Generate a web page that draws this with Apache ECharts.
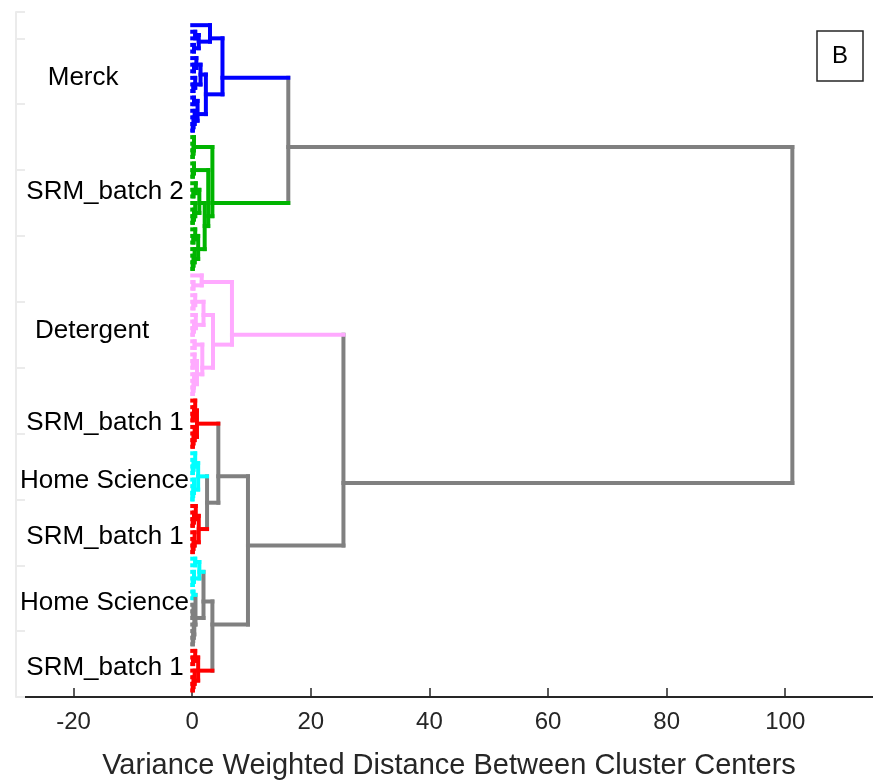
<!DOCTYPE html>
<html>
<head>
<meta charset="utf-8">
<script src="https://cdn.jsdelivr.net/npm/echarts@6/dist/echarts.min.js"></script>
<style>
  html, body { margin: 0; padding: 0; background: #fff; }
  #chart { width: 873px; height: 781px; }
</style>
</head>
<body>
<div id="chart"></div>
<script>
// Dendrogram: each node is [distance, lowerChild, upperChild, colour?]; a leaf is L.
// Leaves are numbered 1..N from the bottom; a node sits at the mean of its leaves.
const L = 0;

const srmBatch1Low = [1.0, [0.4, [0.2, [0.1, L, L], L], L], [0.5, [0.15, L, L], L], 'red'];
const mixedGroup   = [0.55, [0.35, [0.25, [0.15, [0.1, L, L], L], L], [0.2, [0.1, L, L], L]], [0.2, L, L, 'cyan']];
const homeSciLow   = [1.2, [0.3, [0.1, L, L], L], [0.5, L, L], 'cyan'];
const srmBatch1Mid = [1.1, [0.4, [0.2, [0.1, L, L], L], L], [0.6, [0.3, [0.1, L, L], L], L], 'red'];
const homeSciHigh  = [1.0, [0.3, [0.15, [0.05, L, L], L], L], [0.5, [0.2, [0.1, L, L], L], L], 'cyan'];
const srmBatch1Top = [0.8, [0.4, [0.2, [0.1, L, L], L], L], [0.5, [0.3, [0.1, L, L], L], L], 'red'];
const detergent = [6.7,
  [3.5,
    [1.7, [0.8, [0.3, [0.2, [0.1, L, L], L], L], [0.4, [0.1, L, L], L]], [0.4, L, L]],
    [1.9, [0.6, [0.3, [0.1, L, L], L], L], [0.5, [0.2, L, L], L]]],
  [1.6, [0.2, L, L], L], 'pink'];
const srmBatch2 = [3.4,
  [2.7,
    [2.1, [1.0, [0.4, [0.2, [0.1, L, L], L], L], [0.5, [0.2, L, L], L]],
          [1.2, [0.5, [0.3, [0.1, L, L], L], L], [0.6, [0.2, L, L], L]]],
    [0.3, [0.1, L, L], L]],
  [0.3, [0.2, [0.1, L, L], L], L], 'green'];
const merck = [5.1,
  [2.3, [0.9, [0.4, [0.2, [0.1, L, L], L], L], [0.3, L, L]],
        [1.4, [0.5, [0.2, L, L], L], [0.7, [0.3, L, L], L]]],
  [3.0, [1.1, [0.3, L, L], [0.5, L, L]], L], 'blue'];

// Grey links joining the coloured groups
const lowerBranch = [9.4,
  [3.4, srmBatch1Low, [1.9, mixedGroup, homeSciLow]],
  [4.4, [2.5, srmBatch1Mid, homeSciHigh], srmBatch1Top]];
const tree = [101.2, [25.5, lowerBranch, detergent], [16.2, srmBatch2, merck]];

// Group names and where they are written (distance, leaf position)
const groupNames = ['Merck', 'SRM_batch 2', 'Detergent', 'SRM_batch 1', 'Home Science', 'SRM_batch 1', 'Home Science', 'SRM_batch 1'];
const groupLeafPos = [94, 76.7, 55.6, 41.7, 32.8, 24.3, 14.3, 4.4];
const groupDist = [-18.4, -14.7, -16.9, -14.7, -14.8, -14.7, -14.8, -14.7];

const xTicks = [-20, 0, 20, 40, 60, 80, 100];

const palette = {
  grey: '#808080', blue: '#0000ff', green: '#00b400', pink: '#ffaaff', red: '#ff0000', cyan: '#00ffff'
};

// Walk the tree and turn every link into line segments in data space
const segments = [];
const segColors = [];
let leafCounter = 0;
function walk(node, inherited) {
  if (!Array.isArray(node)) {
    leafCounter += 1;
    return { pos: leafCounter, sum: leafCounter, n: 1, h: 0, color: inherited };
  }
  const color = node[3] || inherited;
  const a = walk(node[1], color);
  const b = walk(node[2], color);
  const h = node[0];
  segments.push([h, a.pos, h, b.pos]); segColors.push(color);
  segments.push([a.h, a.pos, h, a.pos]); segColors.push(a.color);
  segments.push([b.h, b.pos, h, b.pos]); segColors.push(b.color);
  const sum = a.sum + b.sum, n = a.n + b.n;
  return { pos: sum / n, sum: sum, n: n, h: h, color: color };
}
walk(tree, 'grey');

const labelData = groupNames.map((name, i) => [groupDist[i], groupLeafPos[i]]);
const FONT = '"Liberation Sans", Arial, sans-serif';

const chart = echarts.init(document.getElementById('chart'), null, { renderer: 'canvas' });
chart.setOption({
  animation: false,
  backgroundColor: '#ffffff',
  title: {
    text: 'B',
    left: 817, top: 31,
    padding: [13, 15],
    borderColor: '#262626', borderWidth: 1.5,
    textStyle: { fontFamily: FONT, fontSize: 24, lineHeight: 24, fontWeight: 'normal', color: '#000' }
  },
  grid: { left: 25, right: 0, top: 12, bottom: 84, containLabel: false, outerBoundsMode: 'none' },
  xAxis: {
    type: 'value', min: -28.2, max: 114.8,
    splitLine: { show: false },
    axisLine: { onZero: false, lineStyle: { color: '#262626', width: 2 } },
    axisTick: { inside: true, length: 9, customValues: xTicks, lineStyle: { color: '#262626', width: 1.5 } },
    axisLabel: { customValues: xTicks, fontFamily: FONT, fontSize: 24, color: '#262626', margin: 13 },
    name: 'Variance Weighted Distance Between Cluster Centers',
    nameLocation: 'middle', nameGap: 54,
    nameTextStyle: { fontFamily: FONT, fontSize: 29, color: '#262626' }
  },
  yAxis: {
    type: 'value', min: 0, max: 104, interval: 10, offset: 9,
    splitLine: { show: false },
    axisLine: { show: true, onZero: false, lineStyle: { color: '#ebebeb', width: 2 } },
    axisTick: { show: true, inside: true, length: 9, lineStyle: { color: '#ebebeb', width: 2 } },
    axisLabel: { show: false }
  },
  series: [
    {
      type: 'custom',
      coordinateSystem: 'cartesian2d',
      data: segments,
      encode: { x: [0, 2], y: [1, 3] },
      clip: false,
      renderItem: function (params, api) {
        const p1 = api.coord([api.value(0), api.value(1)]);
        const p2 = api.coord([api.value(2), api.value(3)]);
        return {
          type: 'line',
          shape: { x1: p1[0], y1: p1[1], x2: p2[0], y2: p2[1] },
          style: { stroke: palette[segColors[params.dataIndex]], lineWidth: 4, lineCap: 'square' }
        };
      }
    },
    {
      type: 'custom',
      coordinateSystem: 'cartesian2d',
      data: labelData,
      encode: { x: 0, y: 1 },
      clip: false,
      renderItem: function (params, api) {
        const p = api.coord([api.value(0), api.value(1)]);
        return {
          type: 'text',
          x: p[0], y: p[1],
          style: {
            text: groupNames[params.dataIndex],
            fontFamily: FONT, fontSize: 26, fill: '#000',
            textAlign: 'center', textVerticalAlign: 'middle'
          }
        };
      }
    }
  ]
});
</script>
</body>
</html>
